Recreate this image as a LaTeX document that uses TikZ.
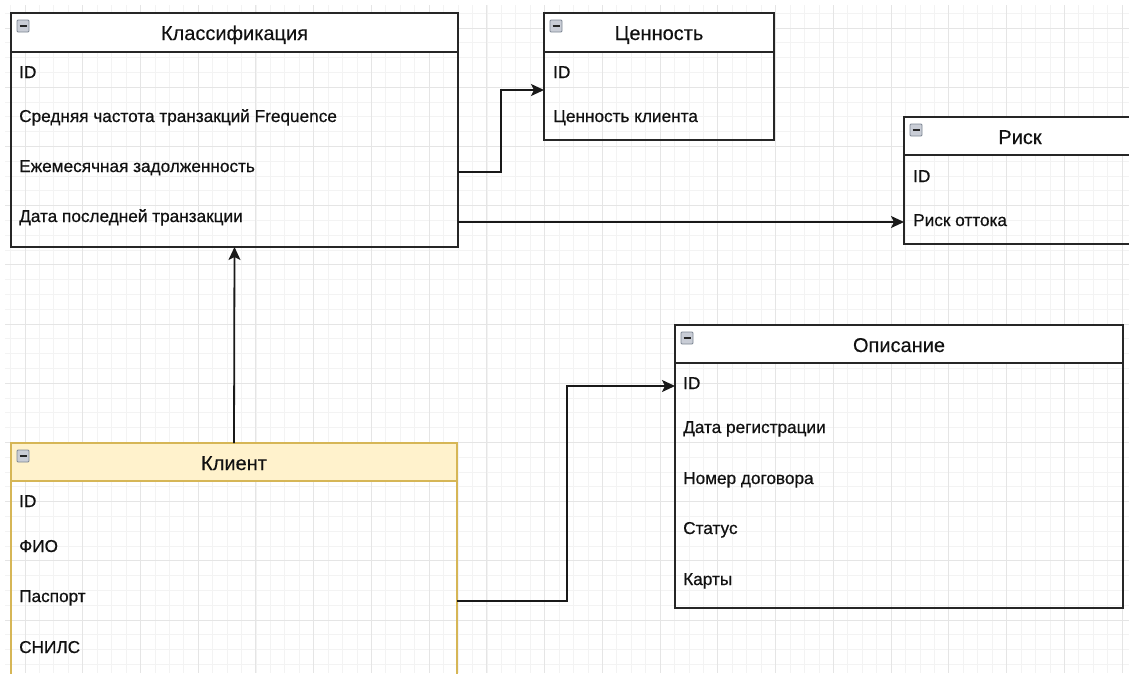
\documentclass[tikz,border=0pt]{standalone}
\usepackage{fontspec}
\setmainfont{Liberation Sans}
\newfontfamily\fieldfont[FakeBold=0.6]{Liberation Sans}
\newfontfamily\titlefont[FakeBold=0.25]{Liberation Sans}
\usetikzlibrary{arrows.meta}
\definecolor{gridmajor}{HTML}{E5E5E5}
\definecolor{gridminor}{HTML}{F3F3F3}
\definecolor{ystroke}{HTML}{D6B656}
\definecolor{yfill}{HTML}{FFF2CC}
\definecolor{txt}{HTML}{111111}
\definecolor{iconfill}{HTML}{C9CDD6}
\definecolor{iconline}{HTML}{7E8794}
\begin{document}
\begin{tikzpicture}[x=1pt,y=-1pt,
  entity/.style={draw=black!85, line width=1.8pt, anchor=north west, inner sep=0pt, outer sep=0pt},
  header/.style={draw=black!85, line width=1.8pt, fill=white},
  title/.style={anchor=base, font=\titlefont\fontsize{20}{22}\selectfont, text=txt, inner sep=0pt},
  field/.style={anchor=base west, font=\fieldfont\fontsize{17.2}{19}\selectfont, text=txt, inner sep=0pt},
  conn/.style={draw=black!90, line width=1.8pt, -{Stealth[length=13pt,width=12pt,inset=3pt]}},
  plain/.style={draw=black!90, line width=1.8pt}
]
\useasboundingbox (0,0) rectangle (1129,673);
\fill[white] (0,0) rectangle (1129,673);
% grid
\begin{scope}
\clip (5,5) rectangle (1129,673);
\foreach \i in {-4,...,80} {
  \draw[gridminor, line width=0.8pt] ({25+14.435*\i},0) -- ({25+14.435*\i},673);
}
\foreach \i in {-4,...,48} {
  \draw[gridminor, line width=0.8pt] (0,{28+14.8*\i}) -- (1129,{28+14.8*\i});
}
\foreach \i in {0,...,19} {
  \draw[gridmajor, line width=1pt] ({25+57.74*\i},0) -- ({25+57.74*\i},673);
}
\foreach \i in {0,...,11} {
  \draw[gridmajor, line width=1pt] (0,{28+59.2*\i}) -- (1129,{28+59.2*\i});
}
\end{scope}

% icon macro
\newcommand{\collapseicon}[2]{%
  \fill[iconfill, draw=iconline, line width=0.8pt, rounded corners=1pt] (#1,#2) rectangle ({#1+12},{#2+12});
  \draw[black!85, line width=2pt] ({#1+2.5},{#2+6}) -- ({#1+9.5},{#2+6});
}

% ---- Классификация ----
\node[entity, minimum width=447pt, minimum height=234pt] (klass) at (11,13) {};
\path[header] (11,13) rectangle (458,52);
\collapseicon{17}{20}
\node[title] (klasst) at (234.5,40) {Классификация};
\node[field] (k1) at (19,78) {ID};
\node[field] (k2) at (19,122) {Средняя частота транзакций Frequence};
\node[field] (k3) at (19,172) {Ежемесячная задолженность};
\node[field] (k4) at (19,222) {Дата последней транзакции};

% ---- Ценность ----
\node[entity, minimum width=230pt, minimum height=127pt] (cen) at (544,13) {};
\path[header] (544,13) rectangle (774,52);
\collapseicon{550}{20}
\node[title] (cent) at (659,40) {Ценность};
\node[field] (c1) at (553,78) {ID};
\node[field] (c2) at (553,122) {Ценность клиента};

% ---- Риск ----
\node[entity, minimum width=232pt, minimum height=127pt] (risk) at (904,117) {};
\path[header] (904,117) rectangle (1136,155);
\collapseicon{910}{124}
\node[title] (riskt) at (1020,144) {Риск};
\node[field] (r1) at (913,182) {ID};
\node[field] (r2) at (913,226) {Риск оттока};

% ---- Описание ----
\node[entity, minimum width=448pt, minimum height=283pt] (opis) at (675,325) {};
\path[header] (675,325) rectangle (1123,363);
\collapseicon{681}{332}
\node[title] (opist) at (899,352) {Описание};
\node[field] (o1) at (683,389) {ID};
\node[field] (o2) at (683,433) {Дата регистрации};
\node[field] (o3) at (683,484) {Номер договора};
\node[field] (o4) at (683,534) {Статус};
\node[field] (o5) at (683,585) {Карты};

% ---- Клиент ----
\node[entity, draw=ystroke, minimum width=446pt, minimum height=260pt] (klient) at (11,443) {};
\path[draw=ystroke, line width=1.8pt, fill=yfill] (11,443) rectangle (457,481);
\collapseicon{17}{450}
\node[title] (klientt) at (234,470) {Клиент};
\node[field] (l1) at (19,507) {ID};
\node[field] (l2) at (19,552) {ФИО};
\node[field] (l3) at (19,602) {Паспорт};
\node[field] (l4) at (19,653) {СНИЛС};

% ---- connectors ----
\coordinate (b1) at (501,90);
\coordinate (b2) at (567,386);
\draw[conn] (klass.east |- 0,172) -| (b1) -- (cen.west |- b1);
\draw[conn] (klass.east |- 0,222) -- (risk.west |- 0,222);
\draw[conn] (klient.north) -- (klass.south);
\draw[conn] (klient.east |- 0,601) -| (b2) -- (opis.west |- b2);
\end{tikzpicture}
\end{document}
